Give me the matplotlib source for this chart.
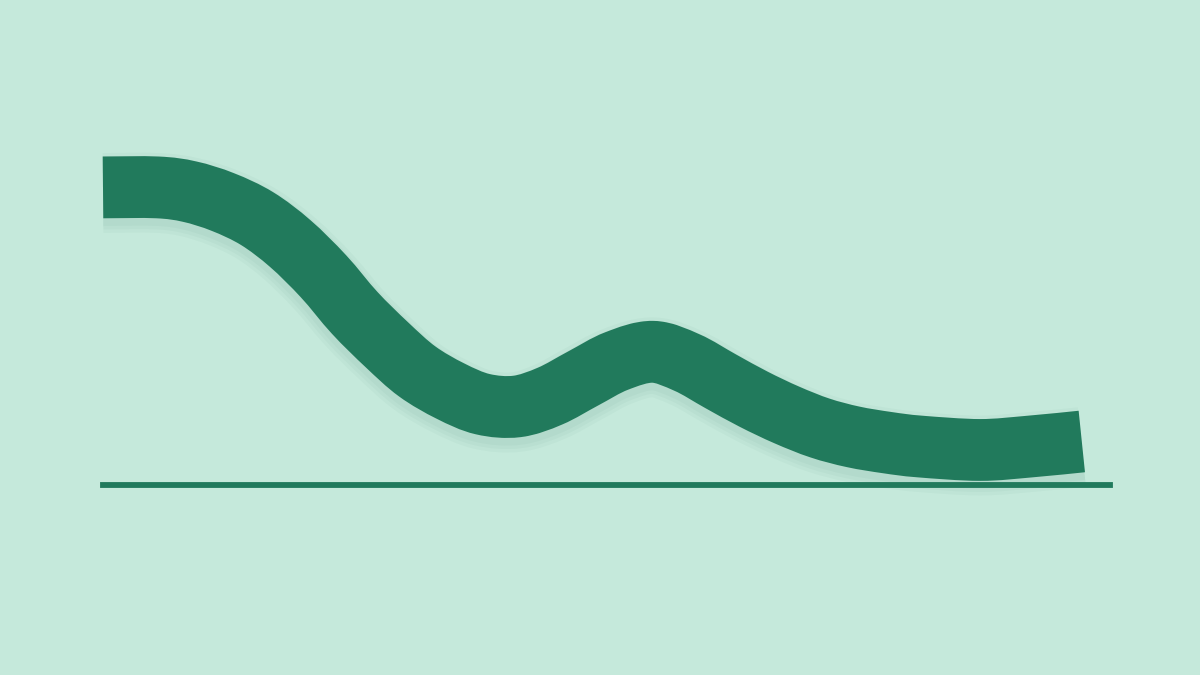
import matplotlib
matplotlib.use("Agg")
import matplotlib.pyplot as plt
import matplotlib.transforms as mtrans
from matplotlib.path import Path
from matplotlib.patches import PathPatch

# centre of the band (x: 0-100 across the baseline, y: height above baseline)
x_vals = [0.0, 5.4, 8.6, 11.9, 15.3, 18.6, 21.9, 25.0, 28.2, 31.2, 34.5, 37.7, 41.1, 44.4,
          47.7, 51.0, 54.6, 58.0, 61.3, 64.6, 67.9, 71.2, 74.5, 77.9, 81.1, 87.1, 92.1, 97.2]
y_vals = [77.3, 77.3, 76.2, 73.5, 69.2, 62.7, 54.2, 44.7, 36.4, 29.5, 24.4, 21.0, 20.4, 23.1,
          27.7, 32.2, 34.6, 31.8, 27.0, 22.3, 18.2, 14.8, 12.5, 11.0, 10.0, 9.1, 10.0, 11.3]

bg = "#c5e9db"
green = "#217a5c"


def smooth_path(xs, ys):
    # catmull-rom through the read points, written as cubic bezier segments
    pts = list(zip(xs, ys))
    ext = [pts[0]] + pts + [pts[-1]]
    verts = [pts[0]]
    codes = [Path.MOVETO]
    for i in range(1, len(ext) - 2):
        p0, p1, p2, p3 = ext[i - 1], ext[i], ext[i + 1], ext[i + 2]
        c1 = (p1[0] + (p2[0] - p0[0]) / 6, p1[1] + (p2[1] - p0[1]) / 6)
        c2 = (p2[0] - (p3[0] - p1[0]) / 6, p2[1] - (p3[1] - p1[1]) / 6)
        verts += [c1, c2, p2]
        codes += [Path.CURVE4] * 3
    return Path(verts, codes)


fig = plt.figure(figsize=(12, 6.75), dpi=100, facecolor=bg)
ax = fig.add_axes([103 / 1200, 190 / 675, 1007 / 1200, 385 / 675])
ax.set_facecolor(bg)
ax.set_xlim(0, 100)
ax.set_ylim(0, 100)
ax.axis("off")

band = smooth_path(x_vals, y_vals)

# soft shadow under the band
shift = mtrans.offset_copy(ax.transData, fig=fig, x=0, y=-4, units="points")
for extra in [3, 8, 13]:
    ax.add_patch(PathPatch(band, fill=False, edgecolor="#0e5a40", lw=44.5 + extra, alpha=0.03,
                           capstyle="butt", joinstyle="round", transform=shift, clip_on=False))

ax.axhline(0, xmin=0, xmax=1, color=green, lw=4.2, clip_on=False)
ax.add_patch(PathPatch(band, fill=False, edgecolor=green, lw=44.5, capstyle="butt",
                       joinstyle="round", clip_on=False))

fig.savefig("out.png", dpi=100, facecolor=bg)
